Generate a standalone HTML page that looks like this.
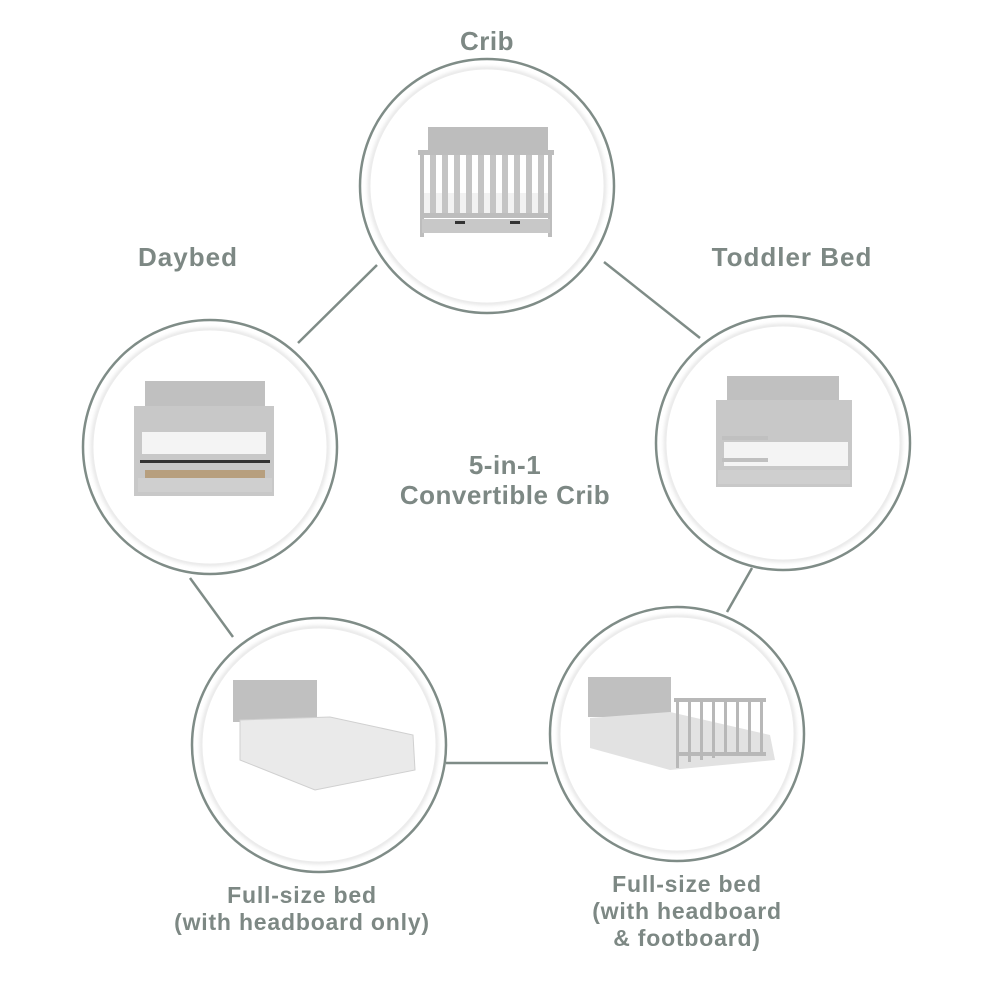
<!DOCTYPE html>
<html><head><meta charset="utf-8"><style>
html,body{margin:0;padding:0;background:#fff;}
svg{display:block}
text{font-family:"Liberation Sans",sans-serif;fill:#7d8884;font-weight:bold;text-anchor:middle}
</style></head><body>
<svg width="1000" height="1000" viewBox="0 0 1000 1000" xmlns="http://www.w3.org/2000/svg">
<defs>
<filter id="sh" x="-20%" y="-20%" width="140%" height="140%"><feGaussianBlur stdDeviation="2"/></filter>
<g id="ring">
<circle r="127" fill="none" stroke="#7f8c87" stroke-width="2.5"/>
<circle r="117" fill="none" stroke="#d8d8d8" stroke-width="3" filter="url(#sh)"/>
<circle r="117" fill="#fff" stroke="#ececec" stroke-width="1"/>
</g>
</defs>
<g stroke="#7f8c87" stroke-width="2.5">
<line x1="377" y1="265" x2="298" y2="343"/>
<line x1="604" y1="262" x2="700" y2="338"/>
<line x1="190" y1="578" x2="233" y2="637"/>
<line x1="752" y1="568" x2="727" y2="612"/>
<line x1="446" y1="763" x2="548" y2="763"/>
</g>
<use href="#ring" x="487" y="186"/>
<use href="#ring" x="210" y="447"/>
<use href="#ring" x="783" y="443"/>
<use href="#ring" x="319" y="745"/>
<use href="#ring" x="677" y="734"/>

<!-- crib -->
<g fill="#bdbdbd">
<rect x="428" y="127" width="120" height="23"/>
<rect x="418" y="150" width="136" height="5"/>
<rect x="420" y="155" width="4" height="82"/><rect x="548" y="155" width="4" height="82"/>
<rect x="424" y="193" width="124" height="20" fill="#f2f2f2"/>
<g fill="#c4c4c4">
<rect x="430" y="155" width="6" height="58"/><rect x="442" y="155" width="6" height="58"/><rect x="454" y="155" width="6" height="58"/>
<rect x="466" y="155" width="6" height="58"/><rect x="478" y="155" width="6" height="58"/><rect x="490" y="155" width="6" height="58"/>
<rect x="502" y="155" width="6" height="58"/><rect x="514" y="155" width="6" height="58"/><rect x="526" y="155" width="6" height="58"/>
<rect x="538" y="155" width="6" height="58"/>
</g>
<rect x="420" y="213" width="132" height="5"/>
<rect x="422" y="219" width="128" height="14" fill="#c8c8c8"/>
<rect x="455" y="221" width="10" height="3" fill="#333"/><rect x="510" y="221" width="10" height="3" fill="#333"/>
</g>
<!-- daybed -->
<g fill="#c0c0c0">
<rect x="145" y="381" width="120" height="25"/>
<rect x="134" y="406" width="140" height="90" fill="#c8c8c8"/>
<rect x="142" y="432" width="124" height="22" fill="#f4f4f4"/>
<rect x="140" y="460" width="130" height="3" fill="#333"/>
<rect x="145" y="470" width="120" height="8" fill="#b79f7e"/>
<rect x="138" y="478" width="134" height="14" fill="#cfcfcf"/>
</g>
<!-- toddler -->
<g fill="#c0c0c0">
<rect x="727" y="376" width="112" height="24"/>
<rect x="716" y="400" width="136" height="87" fill="#c8c8c8"/>
<rect x="724" y="442" width="124" height="24" fill="#f4f4f4"/>
<rect x="722" y="436" width="46" height="4"/><rect x="722" y="458" width="46" height="4"/>
<rect x="718" y="470" width="132" height="14" fill="#cfcfcf"/>
</g>
<!-- full headboard -->
<g>
<rect x="233" y="680" width="84" height="42" fill="#c0c0c0"/>
<polygon points="240,720 330,717 413,735 415,770 315,790 240,760" fill="#eaeaea" stroke="#d0d0d0"/>
</g>
<!-- full footboard -->
<g>
<rect x="588" y="677" width="83" height="40" fill="#c0c0c0"/>
<polygon points="590,718 670,712 770,735 775,760 670,770 590,748" fill="#e2e2e2"/>
<g fill="#b8b8b8">
<rect x="674" y="698" width="92" height="4"/>
<rect x="676" y="702" width="3" height="66"/><rect x="688" y="702" width="3" height="60"/><rect x="700" y="702" width="3" height="58"/>
<rect x="712" y="702" width="3" height="56"/><rect x="724" y="702" width="3" height="54"/><rect x="736" y="702" width="3" height="52"/>
<rect x="748" y="702" width="3" height="50"/><rect x="760" y="702" width="3" height="50"/>
<rect x="676" y="752" width="90" height="4"/>
</g>
</g>

<text x="487" y="50" font-size="26" letter-spacing="0.5">Crib</text>
<text x="188" y="266" font-size="26" letter-spacing="1">Daybed</text>
<text x="792" y="266" font-size="26" letter-spacing="1">Toddler Bed</text>
<text x="505" y="474" font-size="26" letter-spacing="0.5">5-in-1</text>
<text x="505" y="504" font-size="26" letter-spacing="0.5">Convertible Crib</text>
<text x="302" y="903" font-size="23" letter-spacing="0.8">Full-size bed</text>
<text x="302" y="930" font-size="23" letter-spacing="0.8">(with headboard only)</text>
<text x="687" y="892" font-size="23" letter-spacing="0.8">Full-size bed</text>
<text x="687" y="919" font-size="23" letter-spacing="0.8">(with headboard</text>
<text x="687" y="946" font-size="23" letter-spacing="0.8">&amp; footboard)</text>
</svg>
</body></html>
